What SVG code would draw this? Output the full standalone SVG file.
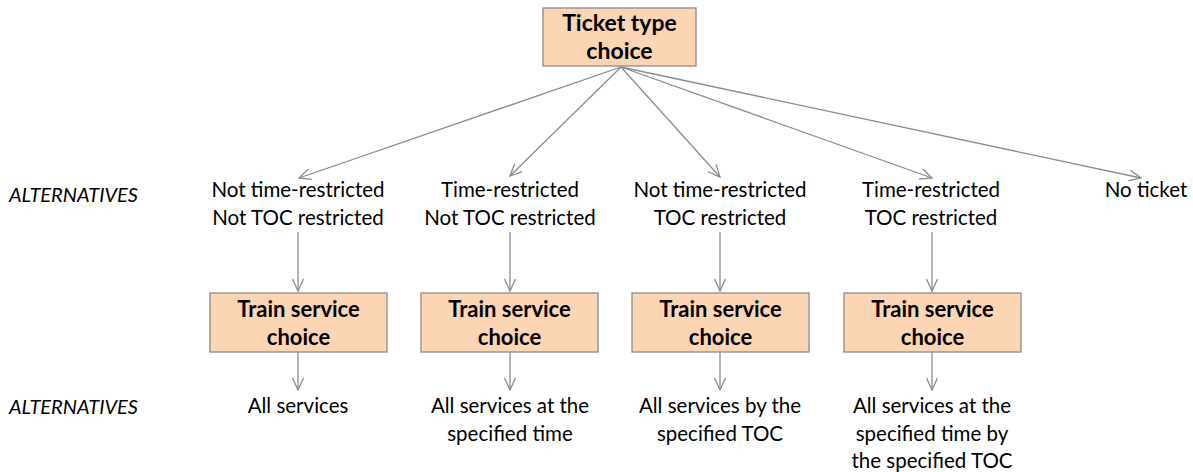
<svg xmlns="http://www.w3.org/2000/svg" width="1193" height="472" viewBox="0 0 1193 472">
<style>
.box{fill:#FCD5B4;stroke:#8C8C8C;stroke-width:1.3}
.bt{font-family:Lato,"Liberation Sans",sans-serif;font-weight:bold;fill:#000;text-anchor:middle}
.t{font-family:Lato,"Liberation Sans",sans-serif;font-size:20.5px;fill:#000;text-anchor:middle}
.alt{font-family:Lato,"Liberation Sans",sans-serif;font-size:20px;font-style:italic;fill:#000}
.c{stroke:#8C8C8C;stroke-width:1.3;fill:none}
</style>
<defs>
<marker id="a" viewBox="0 0 14 12" refX="13" refY="6" markerWidth="14" markerHeight="12" markerUnits="userSpaceOnUse" orient="auto">
<path d="M1,0.5 L13,6 L1,11.5" fill="none" stroke="#8C8C8C" stroke-width="1.3"/>
</marker>
</defs>
<rect width="1193" height="472" fill="#fff"/>
<g id="connectors">
<line class="c" x1="621" y1="67" x2="299" y2="178" marker-end="url(#a)"/>
<line class="c" x1="621" y1="67" x2="510" y2="176" marker-end="url(#a)"/>
<line class="c" x1="621" y1="67" x2="720" y2="177" marker-end="url(#a)"/>
<line class="c" x1="621" y1="67" x2="932" y2="178" marker-end="url(#a)"/>
<line class="c" x1="621" y1="67" x2="1141" y2="178" marker-end="url(#a)"/>
<line class="c" x1="298" y1="232" x2="298" y2="291" marker-end="url(#a)"/>
<line class="c" x1="510" y1="232" x2="510" y2="291" marker-end="url(#a)"/>
<line class="c" x1="720" y1="232" x2="720" y2="291" marker-end="url(#a)"/>
<line class="c" x1="932" y1="232" x2="932" y2="291" marker-end="url(#a)"/>
<line class="c" x1="298" y1="352" x2="298" y2="390" marker-end="url(#a)"/>
<line class="c" x1="510" y1="352" x2="510" y2="390" marker-end="url(#a)"/>
<line class="c" x1="720" y1="352" x2="720" y2="390" marker-end="url(#a)"/>
<line class="c" x1="932" y1="352" x2="932" y2="390" marker-end="url(#a)"/>
</g>
<g id="ticket">
<rect class="box" x="543" y="8" width="153" height="58"/>
<text class="bt" font-size="23" x="619.5" y="31">Ticket type</text>
<text class="bt" font-size="23" x="619.5" y="59">choice</text>
</g>
<g id="labels">
<text class="alt" x="9" y="202">ALTERNATIVES</text>
<text class="alt" x="9" y="414">ALTERNATIVES</text>
</g>
<g id="alt1">
<text class="t" x="298" y="197">Not time-restricted</text>
<text class="t" x="298" y="225">Not TOC restricted</text>
</g>
<g id="alt2">
<text class="t" x="510" y="197">Time-restricted</text>
<text class="t" x="510" y="225">Not TOC restricted</text>
</g>
<g id="alt3">
<text class="t" x="720" y="197">Not time-restricted</text>
<text class="t" x="720" y="225">TOC restricted</text>
</g>
<g id="alt4">
<text class="t" x="931" y="197">Time-restricted</text>
<text class="t" x="931" y="225">TOC restricted</text>
</g>
<g id="alt5">
<text class="t" x="1146" y="197">No ticket</text>
</g>
<g id="train1">
<rect class="box" x="210" y="293" width="177" height="59"/>
<text class="bt" font-size="22" x="298.5" y="317">Train service</text>
<text class="bt" font-size="22" x="298.5" y="345">choice</text>
</g>
<g id="train2">
<rect class="box" x="421" y="293" width="177" height="59"/>
<text class="bt" font-size="22" x="509.5" y="317">Train service</text>
<text class="bt" font-size="22" x="509.5" y="345">choice</text>
</g>
<g id="train3">
<rect class="box" x="632" y="293" width="177" height="59"/>
<text class="bt" font-size="22" x="720.5" y="317">Train service</text>
<text class="bt" font-size="22" x="720.5" y="345">choice</text>
</g>
<g id="train4">
<rect class="box" x="844" y="293" width="177" height="59"/>
<text class="bt" font-size="22" x="932.5" y="317">Train service</text>
<text class="bt" font-size="22" x="932.5" y="345">choice</text>
</g>
<g id="res1">
<text class="t" x="298" y="413">All services</text>
</g>
<g id="res2">
<text class="t" x="510" y="413">All services at the</text>
<text class="t" x="510" y="441">specified time</text>
</g>
<g id="res3">
<text class="t" x="720" y="413">All services by the</text>
<text class="t" x="720" y="441">specified TOC</text>
</g>
<g id="res4">
<text class="t" x="932" y="413">All services at the</text>
<text class="t" x="932" y="441">specified time by</text>
<text class="t" x="932" y="468">the specified TOC</text>
</g>
</svg>
